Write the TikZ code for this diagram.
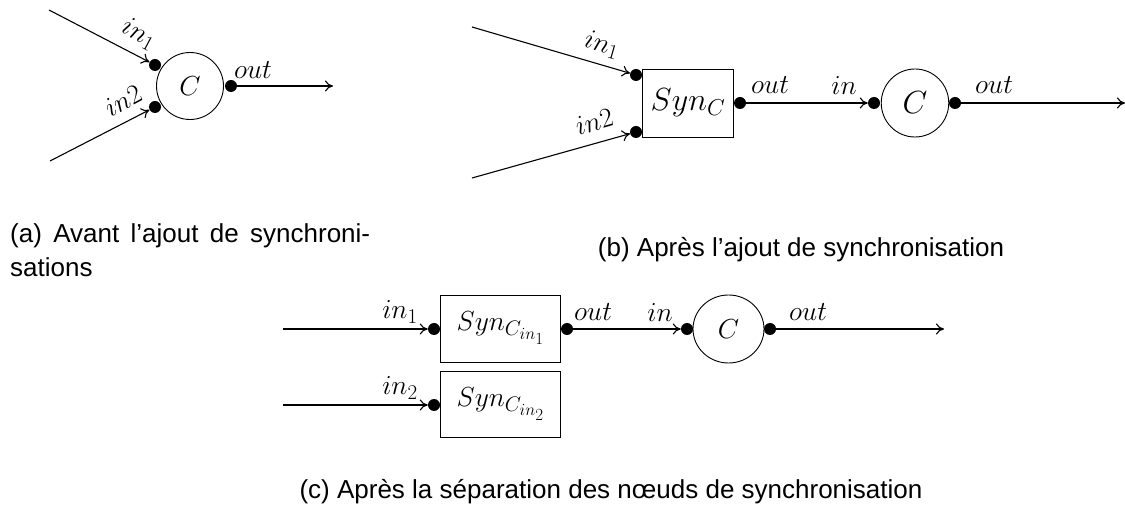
\RequirePackage{fix-cm}
\documentclass[tikz,border=0pt]{standalone}
\usepackage{fontspec}
\newfontfamily\capfont{Liberation Sans}
\usetikzlibrary{arrows.meta,shapes.geometric}
\DeclareMathSizes{27.5}{27.5}{21}{17}
\DeclareMathSizes{32}{32}{23}{17}

\tikzset{
  mathtxt/.style={font=\fontsize{27.5}{32}\selectfont},
  bigtxt/.style={font=\fontsize{32}{36}\selectfont},
  lbl/.style={mathtxt, inner sep=1pt},
  compnode/.style={ellipse, draw, line width=0.9pt, inner sep=0pt, mathtxt},
  synbox/.style={rectangle, draw, line width=0.9pt, inner sep=0pt, mathtxt},
  port/.style={circle, fill=black, inner sep=0pt, minimum size=12pt},
  flow/.style={line width=1.1pt, -{Computer Modern Rightarrow[length=8pt,width=11pt]}},
  capt/.style={font=\capfont\fontsize{26}{34}\selectfont, inner sep=0pt}
}

\begin{document}
\begin{tikzpicture}[x=1pt,y=-1pt]
\useasboundingbox (0,0) rectangle (1125,518);

% ---------- (a) component with two inputs ----------
\node[compnode, minimum width=67pt, minimum height=67pt] (aC) at (190,86) {$C$};
\node[port] (aI1) at (155,65) {};
\node[port] (aI2) at (155,107) {};
\node[port] (aO) at (231,86) {};
\coordinate (aS1) at (49,10);
\coordinate (aS2) at (50,161);
\coordinate (aE) at (333,86);
\draw[flow] (aS1) -- (aI1);
\draw[flow] (aS2) -- (aI2);
\draw[flow] (aO) -- (aE);
\node[lbl, rotate=-28] (aL1) at (139,34) {$in_1$};
\node[lbl, rotate=28] (aL2) at (123,101) {$in2$};
\node[lbl] (aL3) at (253,70) {$out$};

% ---------- (b) one synchronisation node ----------
\node[synbox, bigtxt, minimum width=91.5pt, minimum height=68pt] (bS) at (688,103) {$Syn_C$};
\node[compnode, bigtxt, minimum width=67.5pt, minimum height=68pt] (bC) at (915,103) {$C$};
\node[port] (bI1) at (636,75) {};
\node[port] (bI2) at (636,132) {};
\node[port] (bSo) at (740,103) {};
\node[port] (bCi) at (874,103) {};
\node[port] (bCo) at (955,103) {};
\coordinate (bS1) at (472,27);
\coordinate (bS2) at (472,178);
\coordinate (bE) at (1125,103);
\draw[flow] (bS1) -- (bI1);
\draw[flow] (bS2) -- (bI2);
\draw[flow] (bSo) -- (bCi);
\draw[flow] (bCo) -- (bE);
\node[lbl, rotate=-16] (bL1) at (602,45) {$in_1$};
\node[lbl, rotate=16] (bL2) at (594,122) {$in2$};
\node[lbl] (bL3) at (770,85) {$out$};
\node[lbl] (bL4) at (844,85) {$in$};
\node[lbl] (bL5) at (994,85) {$out$};

% ---------- (c) separated synchronisation nodes ----------
\node[synbox, minimum width=120.5pt, minimum height=67pt] (cS1) at (500.6,328.5) {$Syn_{C_{in_1}}$};
\node[synbox, minimum width=120.5pt, minimum height=66pt] (cS2) at (500.6,404) {$Syn_{C_{in_2}}$};
\node[compnode, minimum width=71pt, minimum height=68pt] (cC) at (728.5,329) {$C$};
\node[port] (cI1) at (434,329) {};
\node[port] (cI2) at (434,405) {};
\node[port] (cSo) at (567,329) {};
\node[port] (cCi) at (687,329) {};
\node[port] (cCo) at (770,329) {};
\coordinate (cS1s) at (283,329);
\coordinate (cS2s) at (283,405);
\coordinate (cE) at (944,329);
\draw[flow] (cS1s) -- (cI1);
\draw[flow] (cS2s) -- (cI2);
\draw[flow] (cSo) -- (cCi);
\draw[flow] (cCo) -- (cE);
\node[lbl] (cL1) at (400,312) {$in_1$};
\node[lbl] (cL2) at (400,388) {$in_2$};
\node[lbl] (cL3) at (593,312) {$out$};
\node[lbl] (cL4) at (660,312) {$in$};
\node[lbl] (cL5) at (808,312) {$out$};

% ---------- captions ----------
\node[capt, anchor=west, align=left] (capA) at (10,250)
  {\makebox[360pt][s]{(a) Avant l’ajout de synchroni-}\\sations};
\node[capt] (capB) at (801,250) {(b) Après l’ajout de synchronisation};
\node[capt] (capC) at (611,492) {(c) Après la séparation des nœuds de synchronisation};
\end{tikzpicture}
\end{document}
